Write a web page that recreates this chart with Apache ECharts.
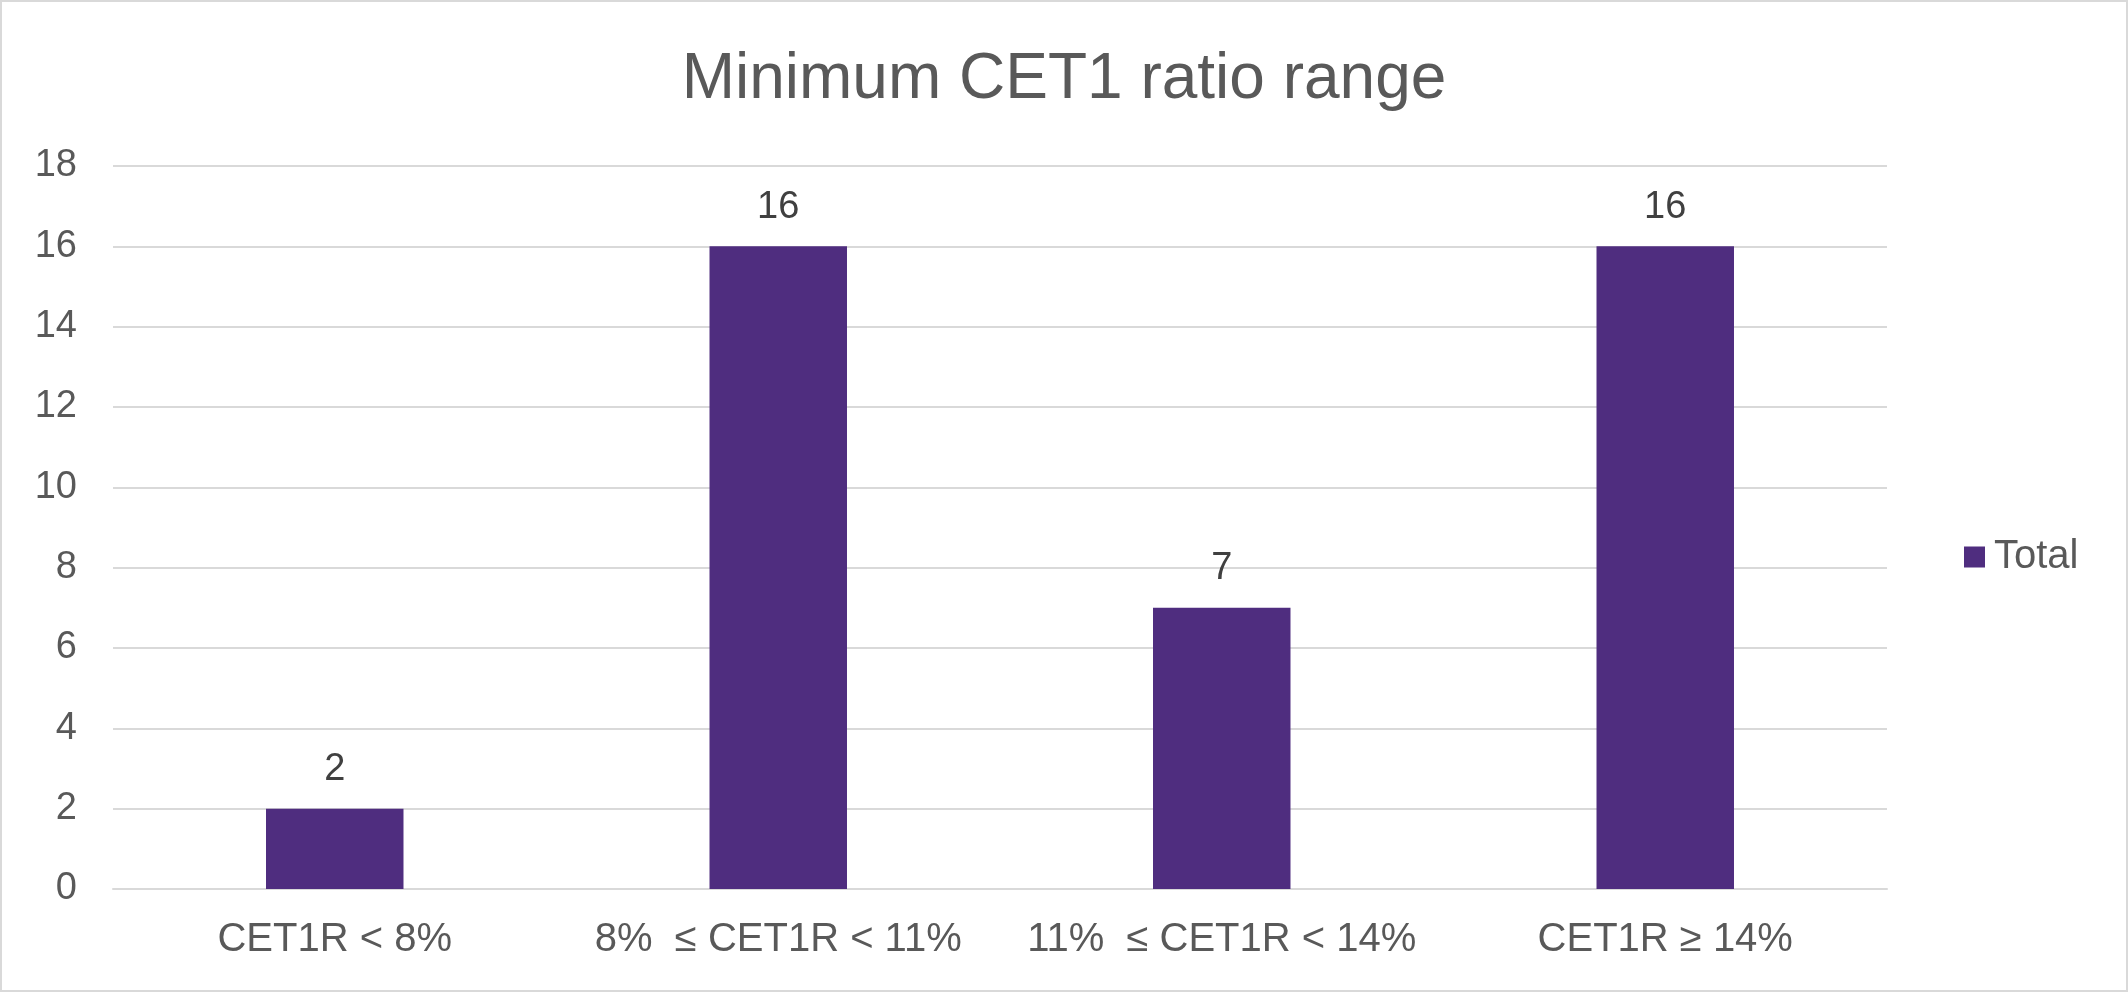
<!DOCTYPE html>
<html><head><meta charset="utf-8">
<script src="https://cdn.jsdelivr.net/npm/echarts@6/dist/echarts.min.js"></script>
<style>
html,body{margin:0;padding:0;background:#fff;}
#frame{position:absolute;left:0;top:0;width:2124px;height:988px;border:2px solid #d9d9d9;}
#c{position:absolute;left:0;top:0;width:2128px;height:992px;}
</style></head>
<body><div id="frame"></div><div id="c"></div>
<script>
const titleText = 'Minimum CET1 ratio range';
const categories = ['CET1R < 8%', '8%  \u2264 CET1R < 11%', '11%  \u2264 CET1R < 14%', 'CET1R \u2265 14%'];
const seriesName = 'Total';
const totals = [2, 16, 7, 16];
const yTicks = {min: 0, max: 18, interval: 2};

const font = '"Liberation Sans", Arial, sans-serif';
const chart = echarts.init(document.getElementById('c'), null, {renderer: 'canvas'});
chart.setOption({
  animation: false,
  title: {
    text: titleText, left: 'center', top: 43,
    textStyle: {fontFamily: font, fontSize: 64, fontWeight: 'normal', color: '#595959'}
  },
  legend: {
    data: [seriesName], orient: 'vertical', left: 1959, top: 532,
    itemWidth: 21, itemHeight: 21, icon: 'rect',
    textStyle: {fontFamily: font, fontSize: 40, color: '#595959', padding: [0, 0, 0, 4]}
  },
  grid: {left: 113, right: 241, top: 166, bottom: 103, containLabel: false},
  xAxis: {
    type: 'category', data: categories,
    axisLine: {lineStyle: {color: '#d9d9d9', width: 2}},
    axisTick: {show: false},
    axisLabel: {fontFamily: font, fontSize: 40, color: '#595959', margin: 31, interval: 0}
  },
  yAxis: {
    type: 'value', min: yTicks.min, max: yTicks.max, interval: yTicks.interval,
    axisLine: {show: false}, axisTick: {show: false},
    splitLine: {lineStyle: {color: '#d9d9d9', width: 2}},
    axisLabel: {fontFamily: font, fontSize: 38, color: '#595959', margin: 36}
  },
  series: [{
    name: seriesName, type: 'bar', data: totals, barWidth: '31%',
    itemStyle: {color: '#4f2d7f'},
    label: {show: true, position: 'top', distance: 20, fontFamily: font, fontSize: 38, color: '#404040'}
  }]
});
</script></body></html>
